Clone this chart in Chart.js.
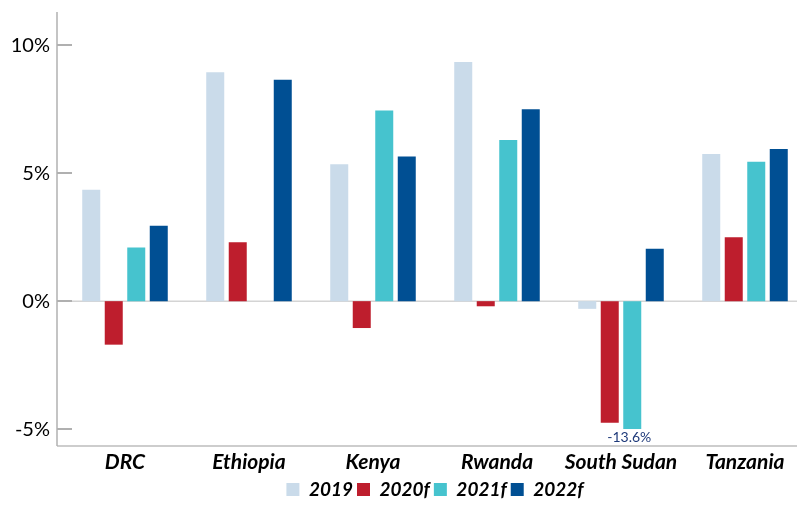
<!DOCTYPE html>
<html lang="en">
<head>
    <meta charset="UTF-8">
    <title>GDP growth - East Africa</title>
    <script src="https://cdn.jsdelivr.net/npm/chart.js"></script>
    <style>
        body { margin: 0; background: #fff; overflow: hidden; }
        /* plot runs a little past the right edge of the window */
        #wrap { width: 807px; height: 509px; }
    </style>
</head>
<body>
<div id="wrap"><canvas id="growthChart"></canvas></div>
<script>
    // Real GDP growth, % (f = forecast)
    var countries = ["DRC", "Ethiopia", "Kenya", "Rwanda", "South Sudan", "Tanzania"];
    var growth2019  = [4.35, 8.95, 5.35, 9.35, -0.3, 5.75];
    var growth2020f = [-1.7, 2.3, -1.05, -0.2, -4.75, 2.5];
    var growth2021f = [2.1, null, 7.45, 6.3, -13.6, 5.45];
    var growth2022f = [2.95, 8.65, 5.65, 7.5, 2.05, 5.95];
    var yTicks = [-5, 0, 5, 10];
    var barFloor = -5; // bars below this are cut off and labelled

    var fontFamily = "Lato, 'Open Sans', sans-serif";
    var viewWidth = 797;

    function cut(values) {
        return values.map(function (v) { return v === null ? null : Math.max(v, barFloor); });
    }

    var seriesList = [
        { label: "2019",  values: growth2019,  color: "#CADBEA" },
        { label: "2020f", values: growth2020f, color: "#BE1E2D" },
        { label: "2021f", values: growth2021f, color: "#46C3CE" },
        { label: "2022f", values: growth2022f, color: "#004F93" }
    ];

    // axis lines, inward tick marks and the zero line
    var axisDecor = {
        id: "axisDecor",
        beforeDatasetsDraw: function (chart) {
            var ctx = chart.ctx, area = chart.chartArea, y = chart.scales.y;
            var axisX = area.left - 6;
            ctx.save();
            ctx.strokeStyle = "#D4D4D4";
            ctx.lineWidth = 1.5;
            ctx.beginPath();
            ctx.moveTo(axisX, y.getPixelForValue(0));
            ctx.lineTo(viewWidth, y.getPixelForValue(0));
            ctx.stroke();
            ctx.strokeStyle = "#BDBDBD";
            ctx.beginPath();
            ctx.moveTo(axisX, area.bottom);
            ctx.lineTo(viewWidth, area.bottom);
            ctx.stroke();
            ctx.strokeStyle = "#B0B0B0";
            ctx.beginPath();
            ctx.moveTo(axisX, area.top);
            ctx.lineTo(axisX, area.bottom);
            ctx.stroke();
            ctx.lineWidth = 2;
            yTicks.forEach(function (v) {
                var py = Math.round(y.getPixelForValue(v));
                ctx.beginPath();
                ctx.moveTo(axisX, py);
                ctx.lineTo(axisX + 15, py);
                ctx.stroke();
            });
            ctx.restore();
        },
        afterDatasetsDraw: function (chart) {
            var ctx = chart.ctx;
            ctx.save();
            ctx.fillStyle = "#1F3A7A";
            ctx.font = "14px " + fontFamily;
            ctx.textAlign = "center";
            ctx.textBaseline = "middle";
            chart.data.datasets.forEach(function (ds, i) {
                var meta = chart.getDatasetMeta(i);
                seriesList[i].values.forEach(function (v, j) {
                    if (v !== null && v < barFloor) {
                        var bar = meta.data[j];
                        ctx.fillText(v.toFixed(1) + "%", bar.x - 3, bar.y + 8);
                    }
                });
            });
            ctx.restore();
        }
    };

    var chartData = {
        labels: countries,
        datasets: seriesList.map(function (s) {
            return {
                label: s.label,
                data: cut(s.values),
                backgroundColor: s.color,
                borderWidth: 0,
                categoryPercentage: 0.726,
                barPercentage: 0.8
            };
        })
    };

    var options = {
        responsive: true,
        maintainAspectRatio: false,
        animation: false,
        layout: { padding: { top: 12, right: 0, bottom: 0, left: 0 } },
        scales: {
            x: {
                grid: { display: false, drawTicks: false },
                border: { display: false },
                ticks: {
                    color: "#000",
                    padding: 4,
                    font: { family: fontFamily, size: 21, style: "italic", weight: "bold" }
                },
                afterFit: function (scale) {
                    scale.height = 30;
                    scale.paddingLeft = 0;
                    scale.paddingRight = 0;
                }
            },
            y: {
                min: -5.66,
                max: 11.3,
                afterBuildTicks: function (scale) {
                    scale.ticks = yTicks.map(function (v) { return { value: v }; });
                },
                grid: { display: false, drawTicks: false },
                border: { display: false },
                ticks: {
                    color: "#000",
                    padding: 13,
                    font: { family: fontFamily, size: 20 },
                    callback: function (v) { return v + "%"; }
                },
                afterFit: function (scale) {
                    scale.width = 63;
                    scale.paddingTop = 0;
                    scale.paddingBottom = 0;
                }
            }
        },
        plugins: {
            legend: {
                position: "bottom",
                fullSize: false,
                labels: {
                    boxWidth: 13,
                    boxHeight: 13,
                    padding: 4,
                    color: "#000",
                    font: { family: fontFamily, size: 19, style: "italic", weight: "bold" }
                }
            },
            tooltip: { enabled: false }
        }
    };

    new Chart(document.getElementById("growthChart"), {
        type: "bar",
        data: chartData,
        options: options,
        plugins: [axisDecor]
    });
</script>
</body>
</html>
